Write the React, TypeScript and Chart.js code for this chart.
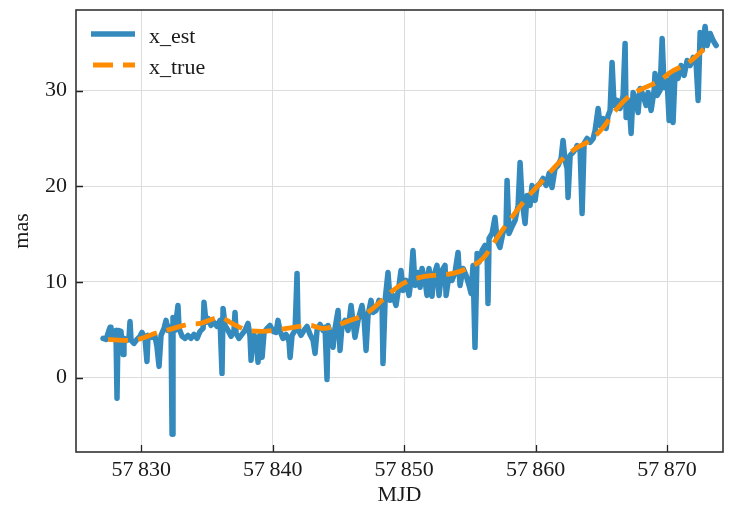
import React, { useEffect, useRef } from "react";
import { Chart, registerables } from "chart.js";

Chart.register(...registerables);

// ---------- data ----------
const seriesLabels = ["x_est", "x_true"];
const xAxisLabel = "MJD";
const yAxisLabel = "mas";
const xTickValues = [57830, 57840, 57850, 57860, 57870];
const yTickValues = [0, 10, 20, 30];
const xRange = [57825.03, 57874.26];
const yRange = [-7.77, 38.43];

const mjdEst = [
  57827.09, 57827.32, 57827.54, 57827.62, 57827.69, 57827.92, 57828.07, 57828.15, 57828.23, 57828.45,
  57828.61, 57828.68, 57828.91, 57829.06, 57829.14, 57829.22, 57829.44, 57829.67, 57829.9, 57830.05,
  57830.28, 57830.43, 57830.51, 57830.81, 57831.04, 57831.19, 57831.35, 57831.5, 57831.73, 57831.88,
  57832.03, 57832.26, 57832.34, 57832.41, 57832.56, 57832.79, 57832.87, 57833.1, 57833.33, 57833.55,
  57833.78, 57834.01, 57834.24, 57834.47, 57834.7, 57834.77, 57834.92, 57835.08, 57835.3, 57835.53,
  57835.76, 57835.99, 57836.14, 57836.22, 57836.37, 57836.6, 57836.83, 57837.05, 57837.13, 57837.21,
  57837.43, 57837.66, 57837.89, 57838.12, 57838.27, 57838.35, 57838.5, 57838.73, 57838.88, 57839.03,
  57839.19, 57839.34, 57839.57, 57839.79, 57840.02, 57840.25, 57840.4, 57840.56, 57840.78, 57841.01,
  57841.24, 57841.32, 57841.47, 57841.7, 57841.85, 57841.93, 57842.15, 57842.38, 57842.61, 57842.84,
  57843.07, 57843.22, 57843.37, 57843.6, 57843.83, 57843.98, 57844.13, 57844.21, 57844.44, 57844.59,
  57844.74, 57844.97, 57845.12, 57845.27, 57845.5, 57845.73, 57845.96, 57846.11, 57846.26, 57846.49,
  57846.79, 57846.95, 57847.1, 57847.25, 57847.48, 57847.63, 57847.86, 57848.09, 57848.32, 57848.39,
  57848.55, 57848.77, 57848.93, 57849.15, 57849.38, 57849.61, 57849.76, 57849.91, 57850.14, 57850.37,
  57850.52, 57850.67, 57850.83, 57851.05, 57851.21, 57851.36, 57851.59, 57851.74, 57851.89, 57852.12,
  57852.27, 57852.5, 57852.65, 57852.88, 57853.11, 57853.19, 57853.41, 57853.64, 57853.87, 57854.1,
  57854.25, 57854.48, 57854.71, 57854.94, 57855.09, 57855.24, 57855.39, 57855.55, 57855.7, 57855.93,
  57856.15, 57856.31, 57856.38, 57856.46, 57856.69, 57856.91, 57857.07, 57857.29, 57857.52, 57857.75,
  57857.83, 57857.98, 57858.21, 57858.44, 57858.67, 57858.82, 57858.97, 57859.2, 57859.35, 57859.58,
  57859.73, 57859.96, 57860.11, 57860.34, 57860.57, 57860.8, 57861.03, 57861.25, 57861.48, 57861.71,
  57861.94, 57862.09, 57862.24, 57862.4, 57862.47, 57862.63, 57862.85, 57863.08, 57863.16, 57863.39,
  57863.54, 57863.69, 57863.92, 57864.15, 57864.38, 57864.53, 57864.76, 57864.91, 57865.14, 57865.37,
  57865.52, 57865.67, 57865.82, 57865.97, 57866.2, 57866.43, 57866.66, 57866.81, 57866.89, 57867.11,
  57867.27, 57867.42, 57867.65, 57867.8, 57867.95, 57868.18, 57868.41, 57868.56, 57868.79, 57869.02,
  57869.09, 57869.25, 57869.47, 57869.63, 57869.78, 57870.01, 57870.16, 57870.31, 57870.46, 57870.62,
  57870.84, 57871.07, 57871.3, 57871.53, 57871.76, 57871.99, 57872.21, 57872.37, 57872.52, 57872.67,
  57872.9, 57873.05, 57873.28, 57873.51, 57873.74,
];

const xEst = [
  4.11, 4.0, 4.94, 5.26, 4.32, 4.84, 4.94, -2.16, 4.94, 4.84,
  2.43, 4.11, 3.9, 4.11, 5.88, 3.9, 3.58, 4.0, 4.32, 4.73,
  4.11, 1.7, 4.42, 4.21, 4.32, 3.27, 1.18, 4.42, 5.15, 5.99,
  4.94, 5.36, -5.92, 6.3, 4.94, 7.55, 5.15, 4.32, 4.11, 4.42,
  4.11, 4.52, 4.11, 4.84, 5.15, 7.87, 5.78, 6.2, 5.46, 5.78,
  5.36, 5.99, 0.45, 7.24, 5.46, 4.94, 4.32, 4.94, 6.82, 4.63,
  4.11, 4.52, 4.94, 5.67, 4.32, 1.81, 4.73, 3.9, 1.6, 4.52,
  2.12, 4.73, 5.15, 5.46, 4.84, 4.73, 5.99, 4.84, 4.11, 4.52,
  3.79, 2.12, 4.42, 4.94, 10.9, 5.05, 4.42, 4.94, 5.36, 4.52,
  3.9, 2.54, 4.94, 5.57, 4.94, 5.26, -0.18, 5.46, 4.32, 3.17,
  5.15, 7.03, 2.85, 5.46, 5.99, 4.94, 7.55, 5.78, 4.21, 5.99,
  7.55, 6.2, 2.85, 6.51, 8.08, 6.82, 7.03, 8.08, 7.35, 1.49,
  8.08, 11.0, 8.08, 8.6, 7.55, 9.64, 11.21, 9.12, 10.17, 8.6,
  10.17, 13.3, 9.64, 11.0, 9.44, 11.42, 10.17, 8.6, 11.42, 8.5,
  10.69, 11.73, 8.6, 11.21, 11.73, 8.6, 10.69, 10.17, 11.0, 13.09,
  9.64, 11.42, 10.69, 9.64, 8.81, 11.73, 3.17, 12.99, 12.05, 13.3,
  13.82, 12.99, 7.76, 14.56, 15.08, 16.75, 14.35, 13.62, 15.18, 15.6,
  20.62, 15.08, 15.81, 16.44, 18.0, 22.5, 18.53, 16.12, 19.05, 18.0,
  20.09, 18.53, 19.99, 20.3, 20.82, 20.09, 21.35, 19.88, 21.87, 22.18,
  22.91, 24.8, 22.71, 21.87, 18.84, 23.23, 23.54, 23.96, 24.27, 23.75,
  17.17, 24.48, 25.0, 24.59, 25.0, 25.84, 28.14, 26.36, 27.09, 26.05,
  27.41, 27.93, 32.95, 28.45, 28.98, 28.14, 29.5, 34.93, 27.2, 28.98,
  25.53, 29.81, 28.98, 27.72, 30.23, 29.5, 28.45, 29.81, 27.93, 30.02,
  31.8, 29.5, 30.02, 35.45, 30.33, 31.06, 26.89, 31.59, 26.68, 32.11,
  31.27, 32.63, 31.59, 33.16, 32.63, 33.47, 32.95, 28.98, 36.08, 34.2,
  36.71, 34.72, 35.98, 35.24, 34.72,
];

const mjdTrue = [
  57827.47, 57828.98, 57829.76, 57831.27, 57832.18, 57833.55, 57834.47, 57835.99, 57836.9, 57838.12,
  57839.19, 57840.56, 57841.55, 57842.84, 57843.83, 57845.89, 57846.87, 57847.63, 57849.16, 57850.07,
  57851.21, 57852.2, 57853.72, 57854.79, 57856.0, 57857.3, 57859.05, 57860.34, 57862.09, 57863.16,
  57864.15, 57865.14, 57866.2, 57867.19, 57868.18, 57869.48, 57870.24, 57871.53, 57872.29, 57873.28,
];

const xTrue = [
  4.0, 3.9, 4.0, 4.73, 5.05, 5.57, 5.67, 6.3, 5.67, 4.94,
  4.84, 5.05, 5.26, 5.46, 5.15, 5.99, 6.51, 7.24, 9.12, 9.96,
  10.48, 10.69, 10.9, 11.42, 12.47, 15.08, 18.32, 20.3, 22.9, 24.05,
  24.8, 26.15, 28.14, 29.5, 30.24, 31.07, 31.9, 32.84, 33.68, 35.04,
];

// ---------- style ----------
const FONT = "'Liberation Serif', 'Times New Roman', 'DejaVu Serif', serif";
const BLUE = "#348abd";
const ORANGE = "#ff8c00";
const TEXT = "#1a1a1a";
const GRID = "#dcdcdc";

function groupThousands(v: number): string {
  const s = String(Math.round(v));
  const neg = s.startsWith("-");
  const d = neg ? s.slice(1) : s;
  if (d.length <= 4) return s;
  return (neg ? "-" : "") + d.slice(0, d.length - 3) + "\u2009" + d.slice(-3);
}

const framePlugin = {
  id: "frame",
  afterDraw(chart: any) {
    const { ctx, chartArea: a, scales } = chart;
    ctx.save();
    // inward tick marks
    ctx.strokeStyle = "#222";
    ctx.lineWidth = 1.3;
    ctx.setLineDash([]);
    ctx.beginPath();
    for (const t of scales.x.ticks) {
      const px = Math.round(scales.x.getPixelForValue(t.value)) + 0.5;
      ctx.moveTo(px, a.bottom);
      ctx.lineTo(px, a.bottom - 7);
    }
    for (const t of scales.y.ticks) {
      const py = Math.round(scales.y.getPixelForValue(t.value)) + 0.5;
      ctx.moveTo(a.left, py);
      ctx.lineTo(a.left + 7, py);
    }
    ctx.stroke();
    // frame
    ctx.strokeStyle = "#333";
    ctx.lineWidth = 1.6;
    ctx.strokeRect(a.left, a.top, a.right - a.left, a.bottom - a.top);
    // legend
    const ds = chart.data.datasets;
    ctx.font = `22px ${FONT}`;
    ctx.fillStyle = TEXT;
    ctx.textBaseline = "alphabetic";
    ctx.textAlign = "left";
    ds.forEach((d: any, i: number) => {
      const y = a.top + 24 + i * 31;
      ctx.strokeStyle = d.borderColor;
      ctx.lineWidth = d.borderWidth;
      ctx.setLineDash(d.borderDash || []);
      ctx.lineCap = "butt";
      ctx.beginPath();
      const x0 = a.left + (d.borderDash ? 17 : 15);
      ctx.moveTo(x0, y);
      ctx.lineTo(a.left + 59, y);
      ctx.stroke();
      ctx.setLineDash([]);
      ctx.fillText(d.label, a.left + 73, y + 9);
    });
    ctx.restore();
  },
};

export default function App() {
  const ref = useRef<HTMLCanvasElement>(null);
  useEffect(() => {
    document.body.style.margin = "0";
    const canvas = ref.current!;
    const estPoints = mjdEst.map((m, i) => ({ x: m, y: xEst[i] }));
    const truePoints = mjdTrue.map((m, i) => ({ x: m, y: xTrue[i] }));
    const chart = new Chart(canvas, {
      type: "line",
      data: {
        datasets: [
          {
            label: seriesLabels[0],
            data: estPoints,
            borderColor: BLUE,
            borderWidth: 5.5,
            pointRadius: 0,
            tension: 0,
            borderJoinStyle: "round",
            borderCapStyle: "round",
            order: 1,
          },
          {
            label: seriesLabels[1],
            data: truePoints,
            borderColor: ORANGE,
            borderWidth: 4.8,
            borderDash: [20, 10],
            pointRadius: 0,
            cubicInterpolationMode: "monotone",
            borderCapStyle: "butt",
            order: 0,
          },
        ],
      },
      options: {
        responsive: false,
        animation: false,
        devicePixelRatio: 1,
        events: [],
        layout: { padding: { top: 10, right: 8, left: 0, bottom: 0 } },
        plugins: { legend: { display: false }, tooltip: { enabled: false } },
        scales: {
          x: {
            type: "linear",
            min: xRange[0],
            max: xRange[1],
            afterBuildTicks: (s: any) => {
              s.ticks = xTickValues.map((v) => ({ value: v }));
            },
            afterFit: (s: any) => {
              s.height = 56;
              s.paddingLeft = 0;
              s.paddingRight = 0;
            },
            ticks: {
              autoSkip: false,
              maxRotation: 0,
              padding: 5,
              color: TEXT,
              font: { family: FONT, size: 22 },
              callback: (v: any) => groupThousands(Number(v)),
            },
            grid: { color: GRID, lineWidth: 1, drawTicks: false },
            border: { display: false },
            title: {
              display: true,
              text: xAxisLabel,
              color: TEXT,
              font: { family: FONT, size: 22 },
              padding: { top: 0, bottom: 0 },
            },
          },
          y: {
            type: "linear",
            min: yRange[0],
            max: yRange[1],
            afterBuildTicks: (s: any) => {
              s.ticks = yTickValues.map((v) => ({ value: v }));
            },
            afterFit: (s: any) => {
              s.width = 76;
              s.paddingTop = 0;
              s.paddingBottom = 0;
            },
            ticks: {
              autoSkip: false,
              padding: 9,
              color: TEXT,
              font: { family: FONT, size: 22 },
              callback: (v: any) => groupThousands(Number(v)),
            },
            grid: { color: GRID, lineWidth: 1, drawTicks: false },
            border: { display: false },
            title: {
              display: true,
              text: yAxisLabel,
              color: TEXT,
              font: { family: FONT, size: 22 },
              padding: { top: 9, bottom: 0 },
            },
          },
        },
      },
      plugins: [framePlugin],
    } as any);
    return () => chart.destroy();
  }, []);
  return (
    <div style={{ width: 731, height: 508 }}>
      <canvas ref={ref} width={731} height={508} style={{ display: "block" }} />
    </div>
  );
}
